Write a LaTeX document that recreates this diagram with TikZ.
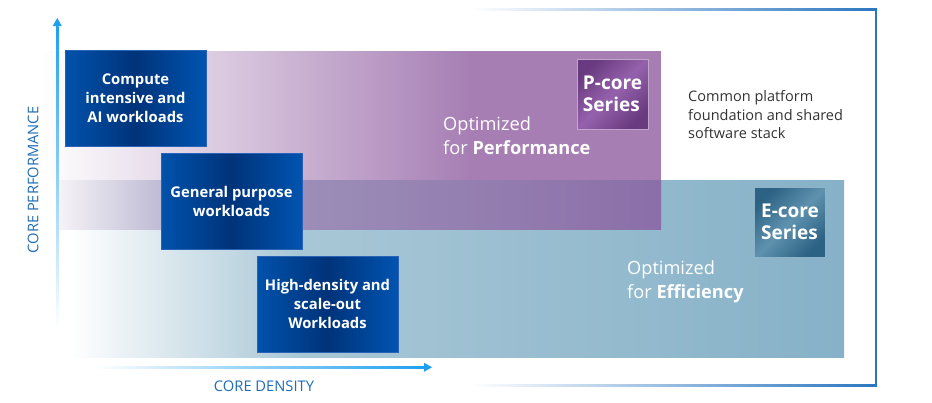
\documentclass[tikz,border=0pt]{standalone}
\usepackage{fontspec}
\setmainfont{Open Sans}
\usetikzlibrary{arrows.meta}
\definecolor{purp}{HTML}{A67EB4}
\definecolor{tealmid}{HTML}{A8C7D6}
\definecolor{tealR}{HTML}{86B1C8}
\definecolor{ovL}{HTML}{F6F4F8}
\definecolor{ovA}{HTML}{BEBAD4}
\definecolor{ovB}{HTML}{9C8EB8}
\definecolor{ovR}{HTML}{8B6EA8}
\definecolor{boxL}{HTML}{0052AC}
\definecolor{boxD}{HTML}{00337A}
\definecolor{boxR}{HTML}{0054B0}
\definecolor{boxedge}{HTML}{2A62B8}
\definecolor{pDark}{HTML}{6A3A80}
\definecolor{pLight}{HTML}{9462AC}
\definecolor{eDark}{HTML}{2C6284}
\definecolor{eLight}{HTML}{5E92AE}
\definecolor{axisblue}{HTML}{1FA0EE}
\definecolor{labelblue}{HTML}{1F6DB8}
\definecolor{framec}{HTML}{2B76C0}
\definecolor{greytext}{HTML}{333333}
\tikzset{
  wbox/.style={minimum width=141pt, minimum height=96pt, inner sep=0pt,
    draw=boxedge, line width=0.7pt, left color=boxL, right color=boxR, middle color=boxD,
    text=white, align=center, font=\bfseries\fontsize{14.8}{19}\selectfont},
  corebox/.style={minimum width=71pt, minimum height=70pt, inner sep=0pt,
    text=white, align=left, font=\bfseries\fontsize{19}{22}\selectfont},
  pbox/.style={corebox, draw=purp!70!white, line width=0.6pt, left color=pDark, right color=pDark, middle color=pLight, shading angle=45},
  ebox/.style={corebox, draw=eLight!70!white, line width=0.6pt, left color=eDark, right color=eDark, middle color=eLight, shading angle=45},
  optlabel/.style={anchor=north west, inner sep=0pt, text=white, align=left, font=\fontsize{18.2}{24}\selectfont},
  axislabel/.style={inner sep=0pt, text=labelblue, font=\fontsize{14.7}{17}\selectfont},
}
\begin{document}
\begin{tikzpicture}[x=1pt,y=-1pt]
\useasboundingbox (0,0) rectangle (932,402);
\fill[white] (0,0) rectangle (932,402);

% frame
\shade[left color=white, right color=framec] (470,8.4) rectangle (877,10);
\shade[left color=white, right color=framec] (470,384.4) rectangle (877,386);
\fill[framec] (875.4,8.4) rectangle (877,386);

% purple band
\shade[left color=white, right color=purp] (42,51) rectangle (470.5,180);
\fill[purp] (470,51) rectangle (661,180);
% teal band
\shade[left color=white, right color=tealmid] (70,180) rectangle (300.5,357);
\shade[left color=tealmid, right color=tealR] (300,180) rectangle (844,357);
% overlap band
\shade[left color=ovL, right color=ovA] (57,180) rectangle (162,229);
\shade[left color=ovB, right color=ovR] (301,180) rectangle (661,229);

% workload boxes
\node[wbox] (compute) at (135.5,98) {Compute\\intensive and\\AI workloads};
\node[wbox] (general) at (231.5,201) {General purpose\\workloads};
\node[wbox] (highdens) at (327.5,304) {High-density and\\scale-out\\Workloads};

% series boxes
\node[pbox] (pcore) at (612.5,94) {P-core\\Series};
\node[ebox] (ecore) at (790,222) {E-core\\Series};

% labels
\node[optlabel] (optperf) at (443,116) {Optimized\\for \textbf{Performance}};
\node[optlabel] (opteff) at (627,260) {Optimized\\for \textbf{Efficiency}};
\node[anchor=north west, inner sep=0pt, text=greytext, align=left, font=\fontsize{14.5}{18.5}\selectfont] (common) at (688,90.5) {Common platform\\foundation and shared\\software stack};

% axes
\coordinate (ybase) at (57.25,330);
\coordinate (ytip) at (57.25,18);
\coordinate (xbase) at (95,367.25);
\coordinate (xtip) at (432,367.25);
\shade[top color=axisblue, bottom color=white] (56,26) rectangle (58.5,330);
\fill[axisblue] (52.75,26) -- (ytip) -- (61.75,26) -- cycle;
\shade[left color=white, right color=axisblue] (95,366) rectangle (425,368.5);
\fill[axisblue] (424,362.75) -- (xtip) -- (424,371.75) -- cycle;

\node[axislabel, rotate=90] (perf) at (33,180) {CORE PERFORMANCE};
\node[axislabel] (dens) at (264,386) {CORE DENSITY};
\end{tikzpicture}
\end{document}
